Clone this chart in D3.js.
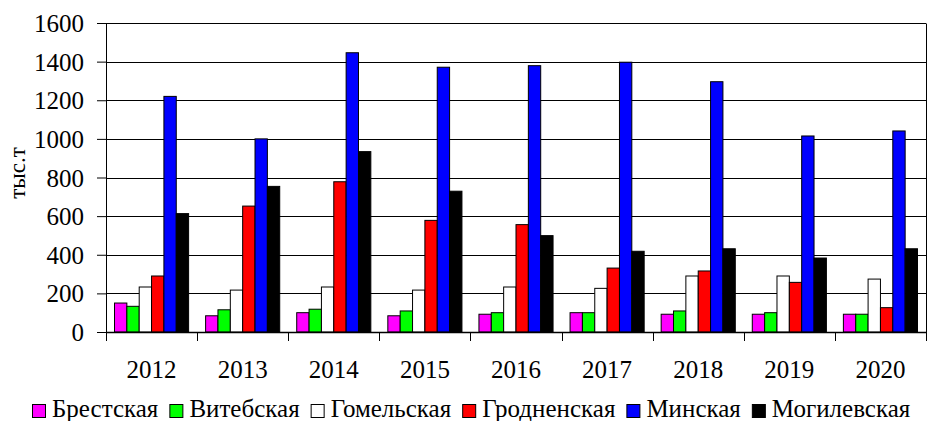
<!DOCTYPE html>
<html>
<head>
<meta charset="utf-8">
<script src="https://cdn.jsdelivr.net/npm/d3@7"></script>
<style>
  body { margin: 0; background: #fff; }
  svg text { font-family: "Liberation Serif", "Times New Roman", serif !important; fill: #000; }
</style>
</head>
<body>
<svg class="chart" width="933" height="421"></svg>
<script>
var years = ["2012", "2013", "2014", "2015", "2016", "2017", "2018", "2019", "2020"];
var regions = ["Брестская", "Витебская", "Гомельская", "Гродненская", "Минская", "Могилевская"];
var colors = ["#ff00ff", "#00ff00", "#ffffff", "#ff0000", "#0000ff", "#000000"];

var brest   = [150, 84, 100, 84, 92, 100, 92, 92, 92];
var vitebsk = [133, 115, 118, 109, 100, 100, 109, 100, 92];
var gomel   = [233, 217, 233, 217, 233, 226, 290, 290, 274];
var grodno  = [290, 652, 778, 578, 556, 331, 316, 257, 126];
var minsk   = [1220, 1000, 1446, 1371, 1379, 1397, 1296, 1015, 1041];
var mogilev = [613, 754, 934, 729, 499, 418, 431, 383, 431];

var yTicks = [0, 200, 400, 600, 800, 1000, 1200, 1400, 1600];

var series = [brest, vitebsk, gomel, grodno, minsk, mogilev];

var margin = {left: 106, right: 7, top: 23, bottom: 89},
    width = 933 - margin.left - margin.right,
    height = 421 - margin.top - margin.bottom;

var fontFam = "'Liberation Serif', 'Times New Roman', serif";

var svg = d3.select(".chart");
var g = svg.append("g")
    .attr("transform", "translate(" + margin.left + "," + margin.top + ")");

var x0 = d3.scaleBand()
    .domain(years)
    .range([0, width])
    .padding(0);

var x1 = d3.scaleBand()
    .domain(regions)
    .range([8.5, x0.bandwidth() - 8.5])
    .padding(0);

var y = d3.scaleLinear()
    .domain([0, 1600])
    .range([height, 0]);

// gridlines
g.append("g")
  .selectAll("line")
  .data(yTicks)
  .enter().append("line")
    .attr("x1", 0)
    .attr("x2", width)
    .attr("y1", function(d) { return Math.round(y(d)) + 0.5; })
    .attr("y2", function(d) { return Math.round(y(d)) + 0.5; })
    .attr("stroke", "#000")
    .attr("stroke-width", 1);

// right border
g.append("line")
    .attr("x1", width + 0.5).attr("x2", width + 0.5)
    .attr("y1", Math.round(y(1600)) + 0.5).attr("y2", height)
    .attr("stroke", "#000");

// bars
var table = years.map(function(yr, i) {
  return regions.map(function(r, j) { return {year: yr, region: r, value: series[j][i], color: colors[j]}; });
});

var grp = g.selectAll(".grp")
    .data(table)
  .enter().append("g")
    .attr("class", "grp")
    .attr("transform", function(d, i) { return "translate(" + x0(years[i]) + ",0)"; });

grp.selectAll("rect")
    .data(function(d) { return d; })
  .enter().append("rect")
    .attr("x", function(d) { return x1(d.region); })
    .attr("width", x1.bandwidth())
    .attr("y", function(d) { return y(d.value); })
    .attr("height", function(d) { return height - y(d.value); })
    .attr("fill", function(d) { return d.color; })
    .attr("stroke", "#000")
    .attr("stroke-width", 1);

// y axis
var yAxis = g.append("g")
    .call(d3.axisLeft(y).tickValues(yTicks).tickSize(9).tickPadding(13).tickFormat(d3.format("d")));
yAxis.attr("font-family", fontFam).attr("font-size", 25);
yAxis.selectAll("text").attr("dy", "0.34em");
yAxis.selectAll("line, path").attr("stroke", "#000");
yAxis.select(".domain").attr("d", "M0.5," + y(1600) + "V" + (height + 0.5));

// x axis: ticks at group boundaries
var xAxis = g.append("g")
    .attr("transform", "translate(0," + height + ")");
xAxis.append("line")
    .attr("x1", 0).attr("x2", width)
    .attr("y1", 0.5).attr("y2", 0.5)
    .attr("stroke", "#000").attr("stroke-width", 1.5);
xAxis.selectAll(".tk")
    .data(years.concat(["end"]))
  .enter().append("line")
    .attr("class", "tk")
    .attr("x1", function(d, i) { return Math.round(i * x0.step()) + 0.5; })
    .attr("x2", function(d, i) { return Math.round(i * x0.step()) + 0.5; })
    .attr("y1", 0).attr("y2", 9)
    .attr("stroke", "#000");
xAxis.selectAll(".lbl")
    .data(years)
  .enter().append("text")
    .attr("class", "lbl")
    .attr("x", function(d) { return x0(d) + x0.bandwidth() / 2; })
    .attr("y", 46)
    .attr("font-family", fontFam)
    .attr("font-size", 25)
    .style("text-anchor", "middle")
    .text(function(d) { return d; });

// y title
svg.append("text")
    .attr("transform", "translate(25,173) rotate(-90)")
    .attr("font-family", fontFam)
    .attr("font-size", 23)
    .style("text-anchor", "middle")
    .text("тыс.т");

// legend
var lx = 32;
regions.forEach(function(r, j) {
  svg.append("rect")
      .attr("x", lx + 0.5).attr("y", 404.5)
      .attr("width", 13).attr("height", 13)
      .attr("fill", colors[j])
      .attr("stroke", "#000");
  var t = svg.append("text")
      .attr("x", lx + 20)
      .attr("y", 417)
      .attr("font-family", fontFam)
      .attr("font-size", 25)
      .text(r);
  lx = lx + 20 + t.node().getComputedTextLength() + 11;
});
</script>
</body>
</html>
